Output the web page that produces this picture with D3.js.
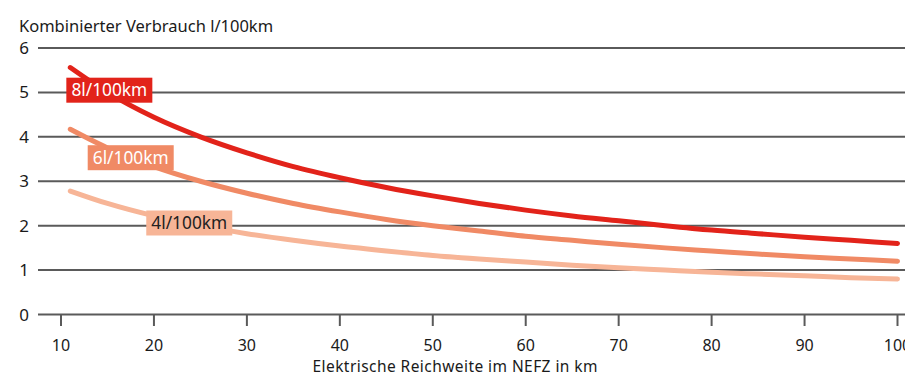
<!DOCTYPE html>
<html><head><meta charset="utf-8">
<script src="https://cdn.jsdelivr.net/npm/d3@7"></script>
<style>
body{margin:0;background:#fff;}
svg{display:block;font-family:"Noto Sans",sans-serif;}
</style></head>
<body><svg id="c" width="905" height="376"></svg>
<script>
const ranges = [11,15,20,25,30,35,40,45,50,55,60,65,70,75,80,85,90,95,100];
const s8 = [5.56,5.00,4.44,4.00,3.64,3.33,3.08,2.86,2.67,2.50,2.35,2.22,2.11,2.00,1.90,1.82,1.74,1.67,1.60];
const s6 = [4.17,3.75,3.33,3.00,2.73,2.50,2.31,2.14,2.00,1.88,1.76,1.67,1.58,1.50,1.43,1.36,1.30,1.25,1.20];
const s4 = [2.78,2.50,2.22,2.00,1.82,1.67,1.54,1.43,1.33,1.25,1.18,1.11,1.05,1.00,0.95,0.91,0.87,0.83,0.80];
const seriesNames = ["8l/100km","6l/100km","4l/100km"];
const labelAt = [[15.2,5.05],[17.5,3.53],[23.8,2.06]];
const xTicks = [10,20,30,40,50,60,70,80,90,100];
const yTicks = [0,1,2,3,4,5,6];
const colors = ["#e2231a","#f08a65","#f7b597"];
const labelText = ["#fff","#fff","#222"];
const yTitle = "Kombinierter Verbrauch l/100km";
const xTitle = "Elektrische Reichweite im NEFZ in km";

const svg = d3.select("#c");
const x = d3.scaleLinear().domain([10,100]).range([61,897.5]);
const y = d3.scaleLinear().domain([0,6]).range([314.5,48]);

svg.append("g").selectAll("line").data(yTicks).join("line")
  .attr("x1",38).attr("x2",905).attr("y1",d=>y(d)).attr("y2",d=>y(d))
  .attr("stroke","#5a5a5a").attr("stroke-width",2);
svg.append("g").selectAll("text").data(yTicks).join("text")
  .attr("x",29).attr("y",d=>y(d)+6).attr("text-anchor","end")
  .attr("font-size",17).attr("fill","#1a1a1a").text(d=>d);

svg.append("g").selectAll("line").data(xTicks).join("line")
  .attr("x1",d=>x(d)).attr("x2",d=>x(d)).attr("y1",315).attr("y2",326)
  .attr("stroke","#5a5a5a").attr("stroke-width",2);
svg.append("g").selectAll("text").data(xTicks).join("text")
  .attr("x",d=>x(d)).attr("y",351).attr("text-anchor","middle")
  .attr("font-size",16).attr("fill","#1a1a1a").text(d=>d);

svg.append("text").attr("x",19).attr("y",31.5).attr("font-size",16.5).attr("fill","#1a1a1a").text(yTitle);
svg.append("text").attr("x",455).attr("y",372).attr("text-anchor","middle").attr("font-size",15.5)
  .attr("textLength",285).attr("lengthAdjust","spacing").attr("fill","#1a1a1a").text(xTitle);

const line = d3.line().x(d=>x(d[0])).y(d=>y(d[1])).curve(d3.curveMonotoneX);
const data = [s8,s6,s4];
[2,1,0].forEach(i=>{
  const pts = ranges.map((r,j)=>[r,data[i][j]]);
  svg.append("path").attr("d",line(pts)).attr("fill","none")
    .attr("stroke",colors[i]).attr("stroke-width",5).attr("stroke-linecap","round").attr("stroke-linejoin","round");
});
[2,1,0].forEach(i=>{
  const cx = x(labelAt[i][0]), cy = y(labelAt[i][1]);
  const g = svg.append("g");
  g.append("rect").attr("x",cx-43).attr("y",cy-12.5).attr("width",86).attr("height",25).attr("fill",colors[i]);
  g.append("text").attr("x",cx).attr("y",cy+6).attr("text-anchor","middle")
    .attr("font-size",17.3).attr("fill",labelText[i]).text(seriesNames[i]);
});
</script></body></html>
